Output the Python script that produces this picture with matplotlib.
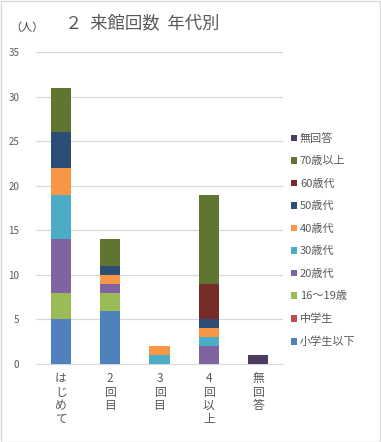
import matplotlib
matplotlib.use("Agg")
import matplotlib.pyplot as plt
import numpy as np
from matplotlib.patches import Rectangle

plt.rcParams['font.family'] = ['Noto Sans CJK JP', 'DejaVu Sans']

categories = ["はじめて", "2回目", "3回目", "4回以上", "無回答"]
cat_labels = ["は\nじ\nめ\nて", "2\n回\n目", "3\n回\n目", "4\n回\n以\n上", "無\n回\n答"]
series_names = ["小学生以下", "中学生", "16～19歳", "20歳代", "30歳代", "40歳代",
                "50歳代", "60歳代", "70歳以上", "無回答"]
values = {
    "小学生以下": [5, 6, 0, 0, 0],
    "中学生":     [0, 0, 0, 0, 0],
    "16～19歳":   [3, 2, 0, 0, 0],
    "20歳代":     [6, 1, 0, 2, 0],
    "30歳代":     [5, 0, 1, 1, 0],
    "40歳代":     [3, 1, 1, 1, 0],
    "50歳代":     [4, 1, 0, 1, 0],
    "60歳代":     [0, 0, 0, 4, 0],
    "70歳以上":   [5, 3, 0, 10, 0],
    "無回答":     [0, 0, 0, 0, 1],
}
colors = ["#4F81BD", "#C0504D", "#9BBB59", "#8064A2", "#4BACC6", "#F79646",
          "#2C4D75", "#772C2A", "#5F7530", "#4D3B62"]
yticks = [0, 5, 10, 15, 20, 25, 30, 35]

W, H = 381, 442
fig = plt.figure(figsize=(W/100, H/100), dpi=100)
fig.patches.append(Rectangle((0.5/W, 0.5/H), 1-1.5/W, 1-1.5/H, transform=fig.transFigure,
                             fill=False, edgecolor="#D9D9D9", linewidth=1))

x0, x1 = 36, 283
ytop, ybot = 52, 364
ax = fig.add_axes([x0/W, 1-ybot/H, (x1-x0)/W, (ybot-ytop)/H])
x = np.arange(len(categories))
bottom = np.zeros(len(categories))
for name, c in zip(series_names, colors):
    v = np.array(values[name], dtype=float)
    ax.bar(x, v, bottom=bottom, width=0.41, color=c, label=name, zorder=3)
    bottom += v

ax.set_xlim(-0.5, len(categories)-0.5)
ax.set_ylim(0, 35)
ax.set_yticks(yticks)
ax.set_yticklabels([str(t) for t in yticks], fontsize=7, color="#595959")
ax.yaxis.grid(True, color="#D9D9D9", linewidth=0.9, zorder=0)
ax.set_axisbelow(True)
for s in ["top", "right", "left"]:
    ax.spines[s].set_visible(False)
ax.spines["bottom"].set_color("#D9D9D9")
ax.tick_params(axis="y", length=0, pad=12)
ax.tick_params(axis="x", length=0)
ax.set_xticks(x)
ax.set_xticklabels([])
for xi, lab in zip(x, cat_labels):
    ax.text(xi, -0.9, lab, ha="center", va="top", fontsize=8.5, color="#595959",
            linespacing=1.05, transform=ax.transData)

handles, labels = ax.get_legend_handles_labels()
leg = fig.legend(handles[::-1], labels[::-1], loc="upper left",
                 bbox_to_anchor=(291/W, 1-133/H), frameon=False, fontsize=8,
                 handlelength=0.55, handleheight=0.55, handletextpad=0.25,
                 labelspacing=1.12, borderaxespad=0, borderpad=0)
for t in leg.get_texts():
    t.set_color("#595959")

fig.text(65/W, 1-23/H, "２  来館回数  年代別", fontsize=12.5, color="#595959",
         ha="left", va="center")
fig.text(10/W, 1-28/H, "（人）", fontsize=8, color="#404040", ha="left", va="center")

fig.savefig("out.png", dpi=100)
